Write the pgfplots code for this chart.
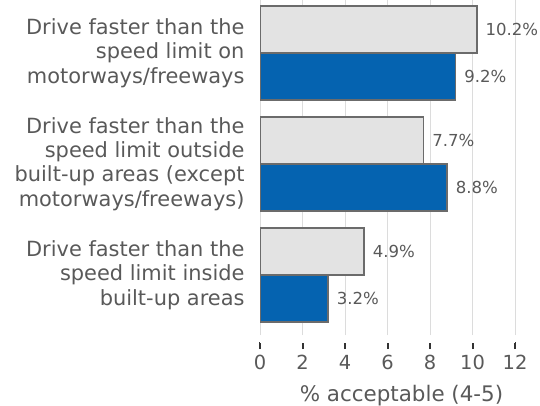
\documentclass[border=0pt]{standalone}
\usepackage{fontspec}
\setmainfont{DejaVu Sans}
\usepackage{pgfplots}
\pgfplotsset{compat=1.18}

\definecolor{txtgray}{HTML}{595959}
\definecolor{barlight}{HTML}{E3E3E3}
\definecolor{barblue}{HTML}{0563B0}
\definecolor{barline}{HTML}{6B6B6B}
\definecolor{gridgray}{HTML}{DCDCDC}
\definecolor{tickdark}{HTML}{333333}

\begin{document}
\begin{tikzpicture}[x=1bp,y=1bp]
\useasboundingbox (0,0) rectangle (540,405);
\begin{axis}[
    at={(260bp,70bp)}, anchor=south west,
    scale only axis,
    width=255bp, height=335bp,
    xmin=0, xmax=12,
    ymin=-0.54, ymax=2.477,
    xbar, bar width=0.42,
    font=\fontsize{21.5}{25}\selectfont\color{txtgray},
    /pgf/number format/assume math mode=true,
    axis y line*=left, axis x line*=bottom,
    axis x line shift=7bp,
    x axis line style={draw=white, line width=0.1bp},
    y axis line style={draw=gridgray, line width=1bp},
    xtick={0,2,...,12},
    xmajorgrids=true,
    major grid style={draw=gridgray, line width=1bp},
    tick align=outside,
    major tick length=7bp,
    tick style={draw=tickdark, line width=2bp},
    xticklabel style={text=txtgray, yshift=-3bp, font=\fontsize{19.5}{23}\selectfont},
    ytick={0,1,2},
    ytick style={draw=none},
    yticklabels={
        {Drive faster than the\\speed limit inside\\built-up areas},
        {Drive faster than the\\speed limit outside\\built-up areas (except\\motorways/freeways)},
        {Drive faster than the\\speed limit on\\motorways/freeways}},
    yticklabel style={align=right, xshift=-5bp, text=txtgray,
        font=\fontsize{21}{24.5}\selectfont},
    xlabel={\% acceptable (4-5)},
    xlabel style={xshift=14bp, yshift=-8bp, text=txtgray},
    point meta=x,
    nodes near coords={\pgfmathprintnumber[fixed,precision=1,fixed zerofill]{\pgfplotspointmeta}\%},
    nodes near coords style={anchor=west, inner sep=0pt, xshift=8bp, text=txtgray,
        font=\fontsize{16.6}{20}\selectfont},
]
% light grey bars (upper bar of each pair)
\addplot[fill=barlight, draw=barline, line width=1.6bp, bar shift=0.212]
    coordinates {(4.9,0) (7.7,1) (10.2,2)};
% blue bars (lower bar of each pair)
\addplot[fill=barblue, draw=barline, line width=1.6bp, bar shift=-0.212]
    coordinates {(3.2,0) (8.8,1) (9.2,2)};
\end{axis}
\end{tikzpicture}
\end{document}
